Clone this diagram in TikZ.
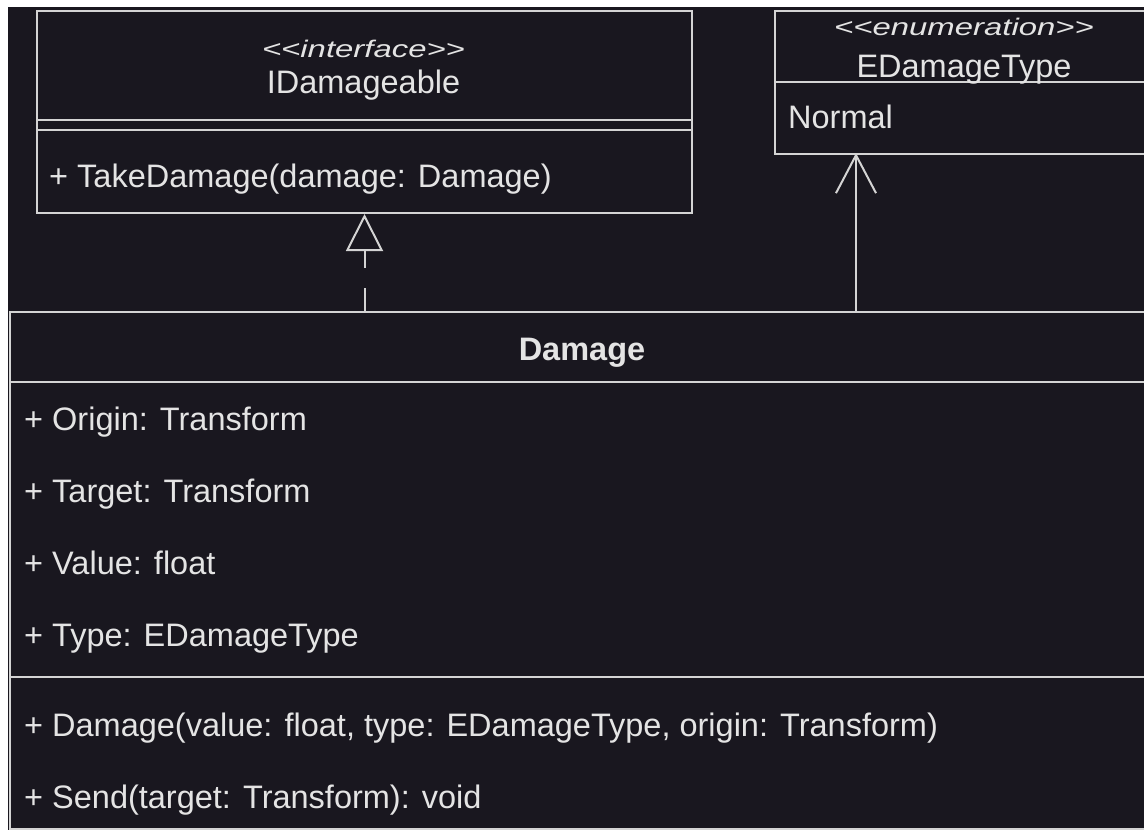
\documentclass[tikz,border=0pt]{standalone}
\usepackage{fontspec}
\setmainfont{Liberation Sans}
\usetikzlibrary{arrows.meta}
\definecolor{bgdark}{RGB}{25,23,31}
\definecolor{linec}{RGB}{212,212,212}
\definecolor{textc}{RGB}{228,228,228}
\tikzset{
  umlbox/.style={draw=linec, line width=2pt, fill=bgdark, inner sep=0pt, anchor=north west},
  sepline/.style={draw=linec, line width=2pt},
  member/.style={text=textc, inner sep=0pt, anchor=base west, font=\fontsize{32.5}{39}\selectfont},
  title/.style={text=textc, inner sep=0pt, anchor=base, font=\fontsize{32.5}{39}\selectfont},
  stereo/.style={text=textc, inner sep=0pt, anchor=base, font=\fontsize{24}{28}\selectfont\itshape},
  conn/.style={draw=linec, line width=2pt},
}
\newcommand{\stx}[1]{\scalebox{1.37}[1]{#1}}
\begin{document}
\begin{tikzpicture}[x={(1pt,0)}, y={(0,-1pt)}]
\useasboundingbox (0,0) rectangle (1144,831);
\fill[white] (0,0) rectangle (1144,831);
\fill[bgdark] (8,7) rectangle (1144,830);

% IDamageable
\node[umlbox, minimum width=655pt, minimum height=202pt] (idam) at (36,10) {};
\draw[sepline] (36,120) -- (691,120);
\draw[sepline] (36,130) -- (691,130);
\node[stereo] (idamst) at (363.5,57) {\stx{<{}<interface>{}>}};
\node[title] (idamname) at (363.5,93) {IDamageable};
\node[member] (idamm1) at (49,187) {+ TakeDamage(damage: Damage)};

% EDamageType
\node[umlbox, minimum width=380pt, minimum height=143pt] (enum) at (774,10) {};
\draw[sepline] (774,82) -- (1154,82);
\node[stereo] (enumst) at (964,35) {\stx{<{}<enumeration>{}>}};
\node[title] (enumname) at (964,77) {EDamageType};
\node[member] (enumv1) at (788,128) {Normal};

% Damage
\node[umlbox, minimum width=1146pt, minimum height=517pt] (dmg) at (9,311) {};
\draw[sepline] (9,382) -- (1155,382);
\draw[sepline] (9,677) -- (1155,677);
\node[title, font=\fontsize{32.5}{39}\selectfont\bfseries] (dmgname) at (582,360) {Damage};
\node[member] (a1) at (24,430) {+ Origin: Transform};
\node[member] (a2) at (24,502) {+ Target: Transform};
\node[member] (a3) at (24,574) {+ Value: float};
\node[member] (a4) at (24,646) {+ Type: EDamageType};
\node[member] (m1) at (24,736) {+ Damage(value: float, type: EDamageType, origin: Transform)};
\node[member] (m2) at (24,808) {+ Send(target: Transform): void};

% connectors
\coordinate (ebot) at (856,153);
\draw[conn, dash pattern=on 23pt off 20pt, -{Triangle[open, length=37pt, width=37pt, line width=2pt]}]
  (idam.south |- dmg.north) -- (idam.south);
\draw[conn, -{Straight Barb[length=38pt, width=40pt, line width=2pt]}]
  (dmg.north -| ebot) -- (ebot);
\end{tikzpicture}
\end{document}
